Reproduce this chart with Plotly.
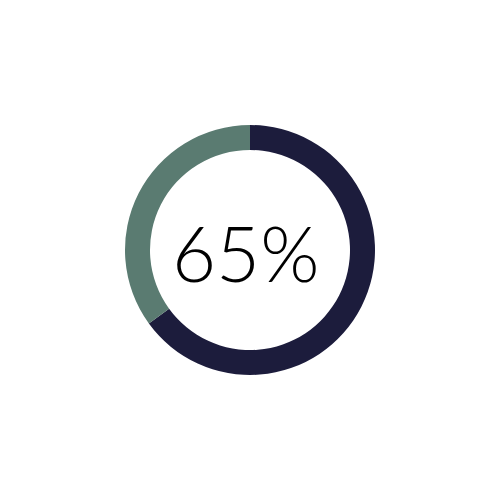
import plotly.graph_objects as go

labels = ["Complete", "Remaining"]
values = [65, 35]
colors = ["#1c1c3c", "#5a7b71"]
center_text = "65%"

# page body adds ~8px offset, so nudge the domain up/left
fig = go.Figure(
    go.Pie(
        labels=labels,
        values=values,
        hole=0.8,
        sort=False,
        direction="clockwise",
        rotation=0,
        marker=dict(colors=colors, line=dict(width=0)),
        textinfo="none",
        hoverinfo="label+percent",
        domain=dict(x=[0.234, 0.734], y=[0.266, 0.766]),
    )
)

fig.add_annotation(
    text=center_text,
    x=0.474,
    y=0.512,
    xref="paper",
    yref="paper",
    showarrow=False,
    font=dict(family="Lato", size=76, color="#000000", weight=300),
)

fig.update_layout(
    width=500,
    height=500,
    margin=dict(l=0, r=0, t=0, b=0),
    showlegend=False,
    paper_bgcolor="white",
    plot_bgcolor="white",
)

fig.write_html("out.html")
